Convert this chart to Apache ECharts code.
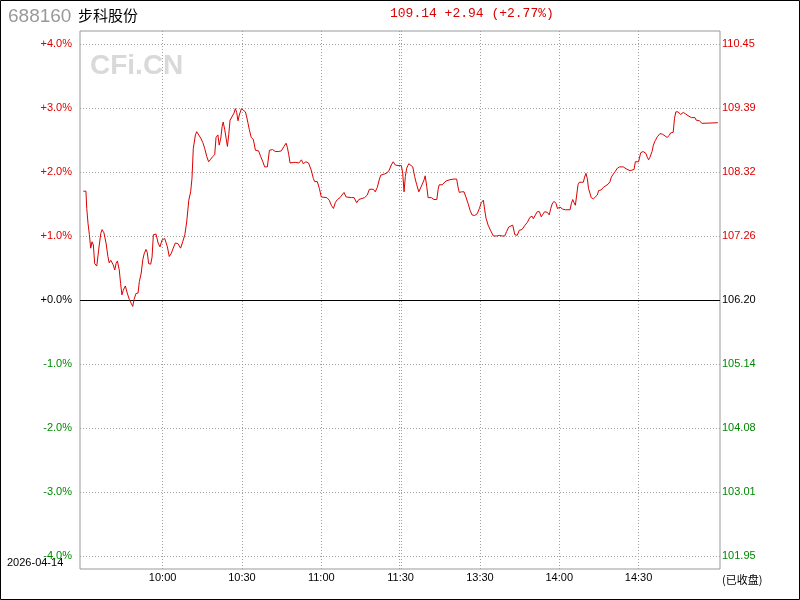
<!DOCTYPE html>
<html>
<head>
<meta charset="utf-8">
<script src="https://cdn.jsdelivr.net/npm/echarts@6/dist/echarts.min.js"></script>
<style>
html,body{margin:0;padding:0;background:#fff;}
#chart{width:800px;height:600px;}
</style>
</head>
<body>
<div id="chart"></div>
<script>
// ---- Data ----
const stockCode = '688160';
const stockName = '步科股份';
const tradeDate = '2026-04-14';
const statusText = '(已收盘)';
const prevClose = 106.20;
const lastPrice = 109.14;
const changeAmt = 2.94;
const changePct = 2.77;

// time axis (minutes since 9:30, trading minutes only)
const timeTicks = [30, 60, 90, 120, 150, 180, 210];
const timeLabels = ['10:00', '10:30', '11:00', '11:30', '13:30', '14:00', '14:30'];
const gridTimes = [30, 60, 90, 119.6, 120.35, 150, 180, 210];

// percent ticks and labels
const pctTicks = [4, 3, 2, 1, 0, -1, -2, -3, -4];
const leftLabels = ['+4.0%', '+3.0%', '+2.0%', '+1.0%', '+0.0%', '-1.0%', '-2.0%', '-3.0%', '-4.0%'];
const rightLabels = ['110.45', '109.39', '108.32', '107.26', '106.20', '105.14', '104.08', '103.01', '101.95'];

// intraday change in % vs previous close: [minute, pct]
const intraday = [
[0,1.70],[1,1.70],[1.3,1.43],[1.8,1.19],[2.3,1.02],[2.8,0.81],[3.3,0.91],[3.8,0.86],[4.3,0.57],[5.1,0.53],
[5.8,0.78],[6.6,1.04],[7.1,1.10],[7.8,1.05],[8.6,0.89],[9.3,0.68],[9.8,0.58],[10.4,0.62],[10.9,0.65],[11.3,0.55],
[11.9,0.47],[12.4,0.57],[12.9,0.61],[13.6,0.47],[14.1,0.26],[14.6,0.08],[15.1,0.15],[15.9,0.22],[16.6,0.11],[17.4,0.01],
[18.2,-0.06],[18.7,-0.10],[19.2,0.01],[19.9,0.10],[20.7,0.11],[21.2,0.29],[21.9,0.42],[22.5,0.63],[23,0.72],[23.7,0.79],
[24.2,0.74],[24.7,0.57],[25.5,0.56],[26,0.67],[26.5,1.02],[27.5,1.03],[28.3,0.89],[29,0.83],[29.8,0.94],[30.8,0.96],
[31.8,0.83],[32.5,0.68],[33.3,0.73],[34,0.81],[34.8,0.89],[35.8,0.88],[36.8,0.81],[37.6,0.91],[38.4,1.02],[39.1,1.22],
[39.9,1.56],[40.6,1.69],[41.1,1.90],[41.6,2.37],[42.4,2.58],[42.9,2.63],[43.6,2.61],[44.4,2.53],[45.2,2.46],[45.9,2.37],
[46.7,2.24],[47.4,2.16],[48.2,2.20],[48.9,2.24],[49.7,2.27],[50.2,2.54],[50.9,2.58],[51.4,2.42],[52,2.53],[52.5,2.71],
[52.9,2.78],[53.5,2.66],[54,2.53],[54.5,2.40],[55,2.58],[55.5,2.81],[56.2,2.82],[57,2.92],[57.5,2.99],[58,2.93],
[58.5,2.80],[59,2.89],[59.3,2.92],[59.8,2.99],[60.5,2.99],[61.3,2.94],[61.8,2.86],[62.3,2.76],[62.8,2.66],[63.5,2.54],
[64.3,2.51],[65.1,2.34],[66.3,2.33],[67.1,2.24],[67.9,2.16],[68.6,2.08],[69.6,2.08],[70.4,2.34],[71.6,2.35],[72.6,2.32],
[73.9,2.32],[74.9,2.33],[75.9,2.40],[76.7,2.45],[77.2,2.38],[77.7,2.27],[78.2,2.14],[78.7,2.11],[79.4,2.15],[80.4,2.15],
[81.5,2.14],[82.5,2.19],[83.2,2.13],[84.2,2.16],[85.2,2.14],[86.2,2.03],[87,1.90],[87.5,1.85],[88.5,1.85],[89.3,1.74],
[90,1.61],[90.5,1.59],[92.1,1.60],[93,1.56],[93.8,1.48],[94.6,1.43],[95.3,1.52],[96.1,1.57],[97.1,1.60],[97.8,1.64],
[98.6,1.68],[99.4,1.61],[100.1,1.61],[101.4,1.60],[102.4,1.60],[103.4,1.52],[104.2,1.57],[104.9,1.60],[106.4,1.60],[107.4,1.64],
[108.2,1.73],[108.9,1.76],[109.7,1.73],[110.4,1.69],[111.2,1.76],[112,1.89],[112.5,1.95],[114,1.97],[115,1.99],[115.7,2.03],
[116.5,2.11],[117.2,2.16],[118,2.11],[119,2.10],[120.3,2.10],[120.8,1.98],[121.3,1.69],[121.8,1.93],[122.3,2.06],[123.1,2.13],
[123.8,2.15],[124.6,2.08],[125.3,1.93],[126.1,1.80],[126.9,1.69],[127.3,1.66],[128.1,1.80],[128.9,1.88],[129.3,1.94],[129.9,1.77],
[130.4,1.60],[131.6,1.60],[132.6,1.57],[133.7,1.57],[134.2,1.73],[134.6,1.80],[135.7,1.80],[136.4,1.82],[137.2,1.86],[137.9,1.84],
[138.7,1.88],[139.4,1.91],[140.2,1.89],[141.2,1.89],[141.7,1.77],[142.2,1.68],[143,1.69],[144,1.69],[144.7,1.61],[145.5,1.51],
[146.3,1.40],[147,1.33],[148,1.32],[149,1.35],[149.8,1.43],[150.5,1.52],[151.3,1.56],[151.8,1.41],[152.3,1.28],[153.1,1.17],
[154.1,1.08],[155.1,1.00],[156.4,1.00],[157.3,1.01],[158.4,1.00],[159.4,1.00],[160.1,1.07],[160.9,1.14],[161.4,1.17],[162.4,1.17],
[163.2,1.02],[164.1,1.01],[164.9,1.09],[165.9,1.10],[166.9,1.16],[167.9,1.21],[168.9,1.29],[169.7,1.31],[170.2,1.27],[171,1.33],
[171.7,1.38],[172.5,1.38],[173.2,1.30],[173.8,1.34],[174.5,1.38],[175.5,1.37],[176.2,1.33],[176.8,1.43],[177.3,1.50],[178,1.54],
[178.8,1.51],[179.3,1.43],[180.3,1.45],[181.3,1.42],[182.3,1.41],[184.1,1.41],[184.6,1.51],[185.1,1.57],[185.6,1.52],[186.1,1.48],
[186.6,1.64],[187.1,1.80],[187.6,1.84],[189.1,1.84],[189.6,1.92],[190.1,1.98],[190.6,1.90],[191.1,1.74],[191.6,1.67],[192.1,1.60],
[192.9,1.58],[193.6,1.58],[194.4,1.64],[194.9,1.71],[195.9,1.72],[196.7,1.76],[197.4,1.79],[198.5,1.81],[199.2,1.85],[199.7,1.92],
[200.5,1.97],[201.2,2.01],[202,2.06],[202.8,2.08],[204.2,2.08],[205.3,2.05],[206,2.04],[206.8,2.02],[207.5,2.01],[208.3,2.04],
[208.8,2.16],[209.5,2.18],[210,2.16],[210.8,2.30],[211.7,2.32],[212.8,2.29],[213.3,2.23],[213.8,2.19],[214.3,2.23],[215.1,2.32],
[215.6,2.42],[216.3,2.49],[217.1,2.55],[218.1,2.60],[219.1,2.59],[219.8,2.56],[220.8,2.54],[221.6,2.57],[222.1,2.61],[223.1,2.62],
[223.6,2.84],[224.1,2.94],[224.9,2.94],[225.9,2.90],[226.9,2.93],[227.7,2.91],[228.7,2.88],[230,2.85],[231.3,2.85],[231.8,2.81],
[233,2.80],[234,2.76],[240,2.77]
];

// ---- Styling ----
const RED = '#dd0000';
const GREEN = '#008800';
const GRID_COLOR = '#a0a0a0';
const LABEL_FONT = 'Liberation Sans';

function pctColor(v) {
  v = Number(v);
  if (v > 0.001) return RED;
  if (v < -0.001) return GREEN;
  return '#000';
}
function tickIndex(v) {
  v = Number(v);
  let best = 0, bd = 1e9;
  pctTicks.forEach((t, i) => { const d = Math.abs(t - v); if (d < bd) { bd = d; best = i; } });
  return best;
}
function fmt(n) { return (n >= 0 ? '+' : '') + n.toFixed(2); }

const chart = echarts.init(document.getElementById('chart'), null, {renderer: 'canvas'});

const yRange = 4.203;

const option = {
  animation: false,
  backgroundColor: '#fff',
  grid: {
    left: 80, right: 80, top: 31, bottom: 31,
    show: true, borderColor: '#999', borderWidth: 1, backgroundColor: 'transparent'
  },
  xAxis: {
    type: 'value',
    min: -1.25, max: 240.8,
    axisLine: {show: false},
    axisTick: {show: false, customValues: gridTimes},
    splitLine: {show: true, lineStyle: {color: GRID_COLOR, width: 1, type: [1, 2]}},
    axisLabel: {
      customValues: timeTicks,
      margin: 3,
      color: '#000',
      fontFamily: LABEL_FONT,
      fontSize: 11,
      formatter: function (v) {
        const i = timeTicks.indexOf(Math.round(Number(v)));
        return i >= 0 ? timeLabels[i] : '';
      }
    }
  },
  yAxis: [{
    type: 'value',
    min: -yRange, max: yRange,
    position: 'left',
    axisLine: {show: false},
    axisTick: {show: false, customValues: pctTicks},
    splitLine: {show: true, lineStyle: {color: GRID_COLOR, width: 1, type: [1, 2]}},
    axisLabel: {
      customValues: pctTicks,
      margin: 8,
      fontFamily: LABEL_FONT,
      fontSize: 11,
      color: function (v) { return pctColor(v); },
      formatter: function (v) { return leftLabels[tickIndex(v)]; }
    }
  }, {
    type: 'value',
    min: -yRange, max: yRange,
    position: 'right',
    axisLine: {show: false},
    axisTick: {show: false, customValues: pctTicks},
    splitLine: {show: false},
    axisLabel: {
      customValues: pctTicks,
      margin: 2,
      fontFamily: LABEL_FONT,
      fontSize: 11,
      color: function (v) { return pctColor(v); },
      formatter: function (v) { return rightLabels[tickIndex(v)]; }
    }
  }],
  series: [{
    type: 'line',
    data: intraday,
    yAxisIndex: 0,
    showSymbol: false,
    symbol: 'none',
    smooth: false,
    lineStyle: {color: RED, width: 1},
    z: 3,
    markLine: {
      silent: true,
      symbol: 'none',
      label: {show: false},
      lineStyle: {color: '#000', width: 1, type: 'solid'},
      data: [{yAxis: 0}],
      z: 2
    }
  }],
  graphic: [
    {type: 'text', left: 90, top: 52, z: 0, style: {text: 'CFi.CN', fill: '#d9d9d9', font: 'bold 28px "Liberation Sans"'}},
    {type: 'text', x: 8, y: 17, style: {text: stockCode, fill: '#999', font: '19px "Liberation Sans"', verticalAlign: 'middle'}},
    {type: 'text', x: 78, y: 15, style: {text: stockName, fill: '#000', font: '15px "Noto Sans CJK SC"', verticalAlign: 'middle'}},
    {type: 'text', x: 390, y: 14, style: {text: lastPrice.toFixed(2) + ' ' + fmt(changeAmt) + ' (' + fmt(changePct) + '%)', fill: RED, font: '13px "Liberation Mono"', verticalAlign: 'middle'}},
    {type: 'text', x: 7, y: 563, style: {text: tradeDate, fill: '#000', font: '11px "Liberation Sans"', verticalAlign: 'middle'}},
    {type: 'text', x: 722, y: 580, style: {text: statusText, fill: '#000', font: '11px "Noto Sans CJK SC"', verticalAlign: 'middle'}},
    {type: 'rect', shape: {x: 0.5, y: 0.5, width: 799, height: 599}, style: {fill: null, stroke: '#000', lineWidth: 1}, z: 100}
  ]
};
chart.setOption(option);
</script>
</body>
</html>
